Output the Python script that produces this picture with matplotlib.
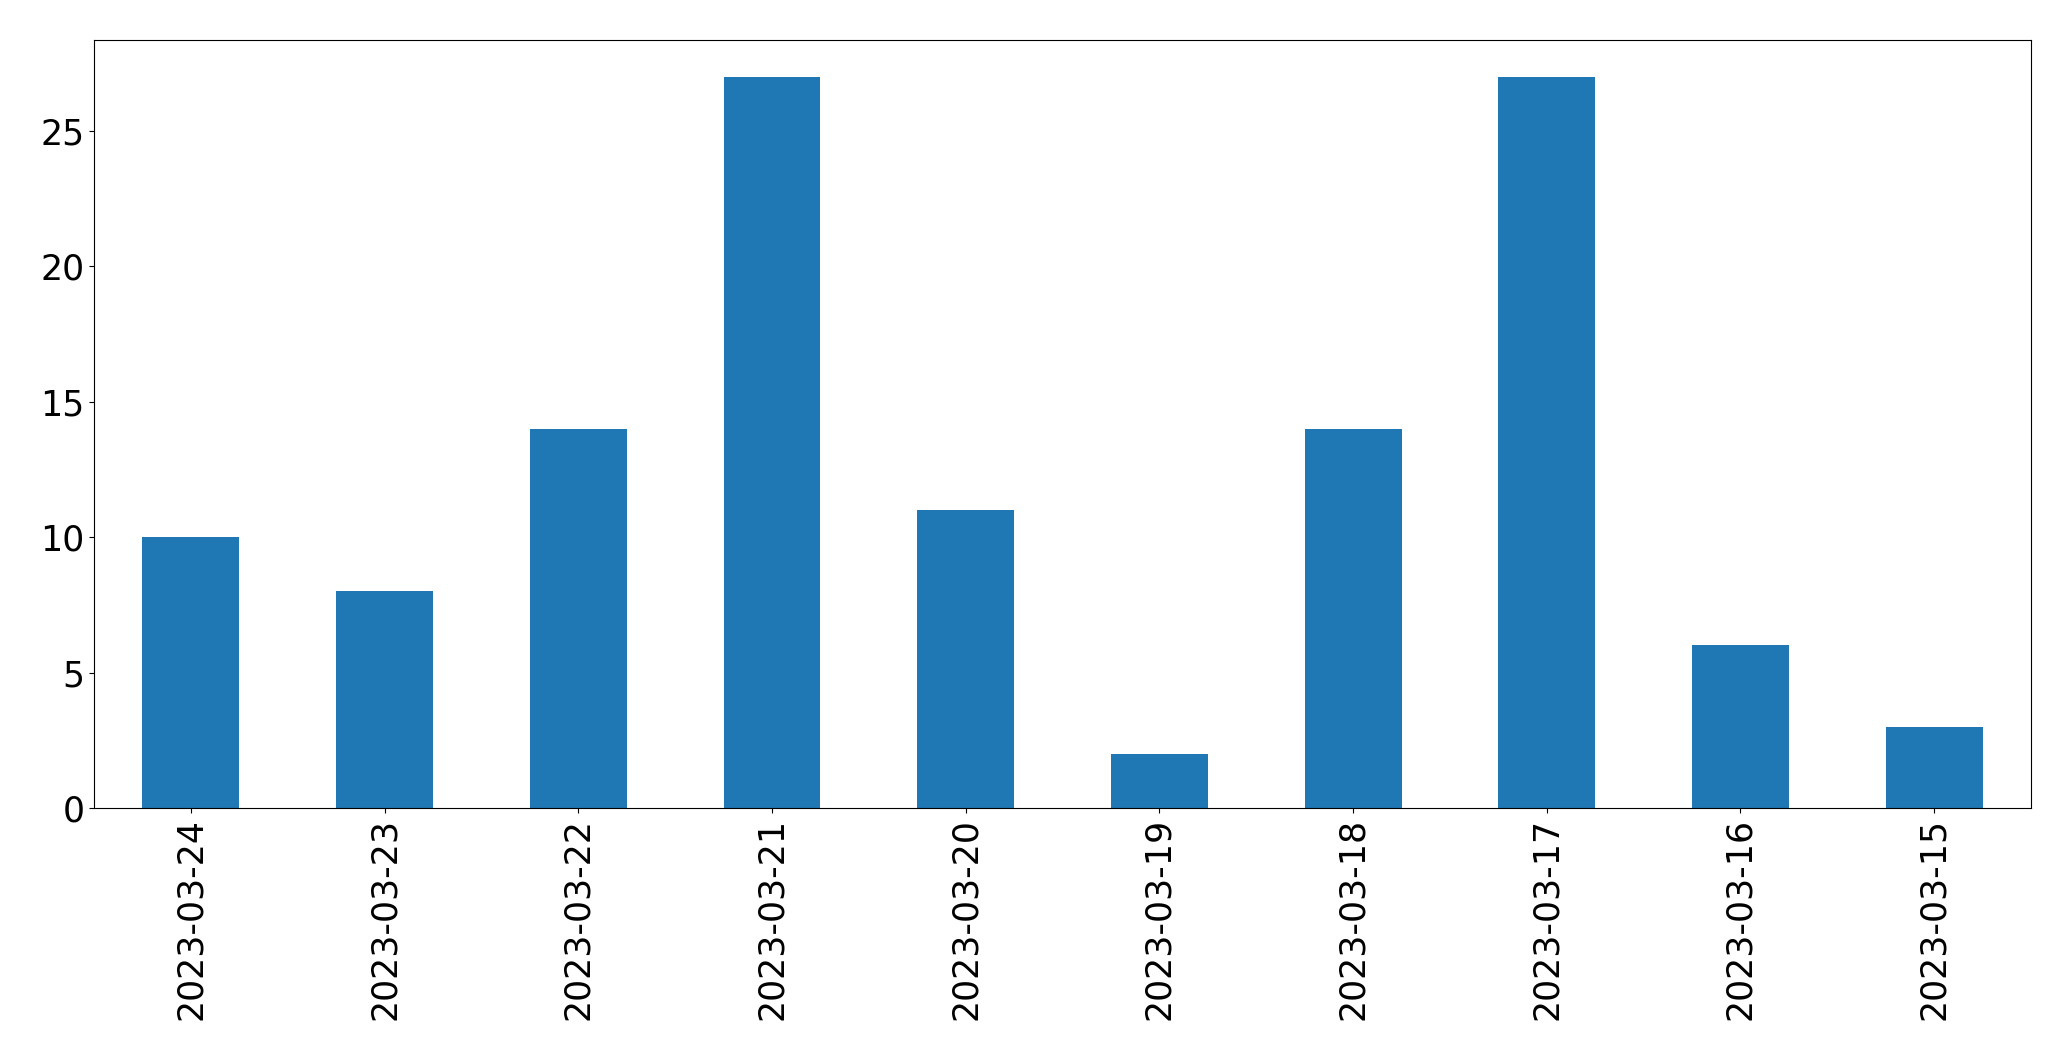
import matplotlib
matplotlib.use("Agg")
import matplotlib.pyplot as plt

dates = ["2023-03-24", "2023-03-23", "2023-03-22", "2023-03-21", "2023-03-20",
         "2023-03-19", "2023-03-18", "2023-03-17", "2023-03-16", "2023-03-15"]
counts = [10, 8, 14, 27, 11, 2, 14, 27, 6, 3]

fig = plt.figure(figsize=(20.71, 10.61), dpi=100)
ax = fig.add_axes([0.0454, 0.2385, 0.9353, 0.7238])

x = range(len(dates))
ax.bar(x, counts, width=0.5, color="#1f77b4")
ax.set_xlim(-0.5, len(dates) - 0.5)
ax.set_ylim(0, max(counts) * 1.05)
ax.set_xticks(list(x))
ax.set_xticklabels(dates, rotation=90)
ax.tick_params(labelsize=25)

fig.savefig("out.png", dpi=100)
